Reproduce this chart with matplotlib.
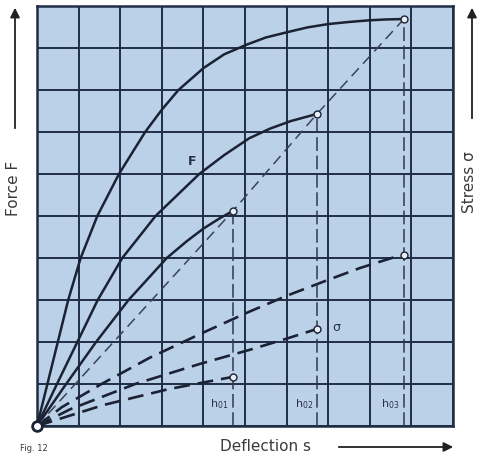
import matplotlib.pyplot as plt

# force curves F for three spring heights (deflection s, force F)
f1_s = [0, 0.7, 1.42, 2.2, 3.12, 3.6, 4.0, 4.4, 4.71]
f1_y = [0, 1.0, 2.0, 3.0, 4.0, 4.4, 4.7, 4.95, 5.12]
f2_s = [0, 0.48, 0.97, 1.46, 2.05, 2.85, 3.9, 4.5, 5.1, 5.6, 6.1, 6.73]
f2_y = [0, 1.0, 2.0, 3.0, 4.0, 5.0, 6.0, 6.45, 6.85, 7.08, 7.26, 7.43]
f3_s = [0, 0.25, 0.5, 0.75, 1.05, 1.45, 1.97, 2.6, 3.0, 3.4, 4.0, 4.5, 5.04,
        5.5, 6.03, 6.5, 7.0, 7.5, 8.0, 8.4, 8.82]
f3_y = [0, 1.0, 2.0, 3.0, 4.0, 5.0, 6.0, 7.0, 7.53, 8.0, 8.52, 8.85, 9.08,
        9.25, 9.38, 9.49, 9.57, 9.62, 9.66, 9.68, 9.69]

# stress curves sigma
s1_s = [0, 1.6, 3.17, 4.71]
s1_y = [0, 0.5, 0.88, 1.17]
s2_s = [0, 0.8, 2.36, 3.92, 5.1, 6.0, 6.73]
s2_y = [0, 0.4, 1.0, 1.48, 1.81, 2.08, 2.31]
s3_s = [0, 0.6, 1.55, 2.7, 3.92, 5.1, 6.0, 7.0, 7.76, 8.75]
s3_y = [0, 0.45, 1.0, 1.62, 2.19, 2.72, 3.1, 3.48, 3.76, 4.07]

# end points (h01, h02, h03)
end_s = [4.71, 6.73, 8.82]
end_f = [5.12, 7.43, 9.69]
end_sig = [1.17, 2.31, 4.07]
h_labels = ['h$_{01}$', 'h$_{02}$', 'h$_{03}$']

ink = '#1b2233'
grid_c = '#1f2d45'

fig = plt.figure(figsize=(4.81, 4.60), dpi=100)
ax = fig.add_axes([37/481, 33/460, 416/481, 420/460])
ax.set_facecolor('#bbd1e8')
ax.set_xlim(0, 10)
ax.set_ylim(0, 10)
ax.set_xticks(range(11))
ax.set_yticks(range(11))
ax.tick_params(length=0, labelbottom=False, labelleft=False)
ax.grid(True, color=grid_c, linewidth=1.4)
for sp in ax.spines.values():
    sp.set_color(grid_c)
    sp.set_linewidth(1.8)

# solid F curves
for xs, ys in [(f1_s, f1_y), (f2_s, f2_y), (f3_s, f3_y)]:
    ax.plot(xs, ys, color=ink, linewidth=1.8, zorder=3, solid_joinstyle='round')

# dashed sigma curves
for xs, ys in [(s1_s, s1_y), (s2_s, s2_y), (s3_s, s3_y)]:
    ax.plot(xs, ys, color=ink, linewidth=1.9, dashes=(6, 3), zorder=3)

# straight line through the F end points
ax.plot([0] + end_s, [0] + end_f, color='#3a4458', linewidth=1.1, dashes=(7, 4), zorder=3)

# vertical dashed lines down to the axis
for xs, yf in zip(end_s, end_f):
    ax.plot([xs, xs], [0, yf], color='#2e384c', linewidth=1.1, dashes=(9, 3), zorder=3)

ax.plot(end_s, end_f, 'o', markersize=5, markerfacecolor='#e8eef5', markeredgecolor=ink, zorder=4)
ax.plot(end_s, end_sig, 'o', markersize=5, markerfacecolor='#e8eef5', markeredgecolor=ink, zorder=4)
ax.plot([0], [0], 'o', markersize=7, markerfacecolor='white', markeredgecolor=ink,
        markeredgewidth=2, zorder=5, clip_on=False)

for xs, lab in zip(end_s, h_labels):
    ax.text(xs - 0.1, 0.55, lab, ha='right', va='center', fontsize=8, color='#2a3242', zorder=5)

ax.text(3.72, 6.32, 'F', fontsize=9, fontweight='bold', color='#2a3242', ha='center', va='center')
ax.text(7.2, 2.38, '\u03c3', fontsize=9, color='#2a3242', ha='center', va='center')

# axis captions with arrows
txt_c = '#3a3a3a'
fig.text(14/481, 1 - 188/460, 'Force F', rotation=90, ha='center', va='center', fontsize=11, color=txt_c)
fig.text(470/481, 1 - 182/460, 'Stress \u03c3', rotation=90, ha='center', va='center', fontsize=11, color=txt_c)
fig.text(266/481, 1 - 447/460, 'Deflection s', ha='center', va='center', fontsize=11, color=txt_c)
fig.text(20/481, 1 - 449/460, 'Fig. 12', ha='left', va='center', fontsize=6, color=txt_c)

arrow = dict(arrowstyle='-|>', color='#222222', linewidth=1.3, mutation_scale=14)
ax.annotate('', xy=(15/481, 1 - 6/460), xytext=(15/481, 1 - 132/460),
            xycoords='figure fraction', textcoords='figure fraction', arrowprops=arrow)
ax.annotate('', xy=(472/481, 1 - 6/460), xytext=(472/481, 1 - 122/460),
            xycoords='figure fraction', textcoords='figure fraction', arrowprops=arrow)
ax.annotate('', xy=(456/481, 1 - 448/460), xytext=(336/481, 1 - 448/460),
            xycoords='figure fraction', textcoords='figure fraction', arrowprops=arrow)

plt.savefig('out.png', dpi=100)
